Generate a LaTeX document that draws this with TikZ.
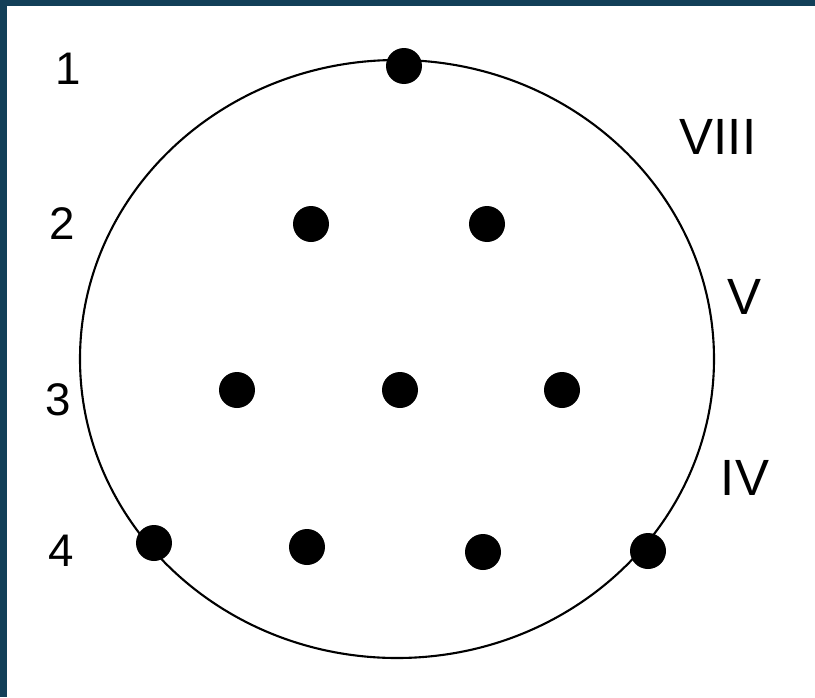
\documentclass[tikz,border=0pt]{standalone}
\usepackage{fontspec}
\setmainfont{Liberation Sans}
\usetikzlibrary{positioning}
\definecolor{frameblue}{HTML}{123F58}

\begin{document}
\begin{tikzpicture}[x=0.02cm, y=-0.02cm,
        electrode/.style={circle, fill=black, inner sep=0pt, minimum size=0.72cm},
        rowlabel/.style={font=\fontsize{26}{26}\selectfont, inner sep=0pt},
        zonelabel/.style={font=\fontsize{29}{29}\selectfont, inner sep=0pt}
    ]
        % frame and background
        \useasboundingbox (0,0) rectangle (815,697);
        \fill[frameblue] (0,0) rectangle (815,697);
        \fill[white] (7,6) rectangle (815,697);

        % head outline
        \draw[line width=1.2pt] (397,359) ellipse [x radius=317, y radius=299];

        % electrodes
        \node[electrode] (top)   at (404,66)  {};
        \node[electrode] (r2l)   at (311,224) {};
        \node[electrode] (r2r)   at (487,224) {};
        \node[electrode] (r3l)   at (237,390) {};
        \node[electrode] (r3c)   at (400,390) {};
        \node[electrode] (r3r)   at (562,390) {};
        \node[electrode] (r4ll)  at (154,543) {};
        \node[electrode] (r4l)   at (307,547) {};
        \node[electrode] (r4r)   at (483,552) {};
        \node[electrode] (r4rr)  at (648,551) {};

        % row numbers
        \node[rowlabel] (one)   at (68,69)  {1};
        \node[rowlabel] (two)   at (62,224) {2};
        \node[rowlabel] (three) at (58,400) {3};
        \node[rowlabel] (four)  at (61,551) {4};

        % zones
        \node[zonelabel] (viii) at (718,137) {VIII};
        \node[zonelabel] (v)    at (744,297) {V};
        \node[zonelabel] (iv)   at (745,478) {IV};
    \end{tikzpicture}
\end{document}
